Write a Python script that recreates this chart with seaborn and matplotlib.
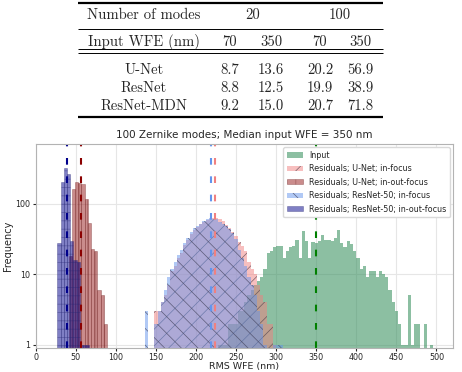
import numpy as np
import pandas as pd
import matplotlib
matplotlib.use("Agg")
import matplotlib.pyplot as plt
from matplotlib import ticker
import seaborn as sns

# ---- table data ----
mode_counts = ["20", "100"]
input_wfe = ["70", "350", "70", "350"]
models = ["U-Net", "ResNet", "ResNet-MDN"]
table_values = [
    [8.7, 13.6, 20.2, 56.9],
    [8.8, 12.5, 19.9, 38.9],
    [9.2, 15.0, 20.7, 71.8],
]

# ---- histogram data (counts per 4 nm bin, each series has its own first edge) ----
bin_width = 4

input_start = 228
input_counts = [1, 1, 1, 2, 2, 2, 3, 3, 4, 5, 6, 7, 8, 9, 12, 20, 21, 24, 25, 25,
                17, 21, 24, 25, 31, 17, 41, 30, 17, 29, 28, 30, 36, 31, 31, 30, 33, 43, 28, 24,
                30, 27, 21, 17, 12, 13, 9, 11, 11, 9, 11, 10, 9, 6, 4, 3, 2, 1, 1, 5,
                1, 2, 2, 0, 2, 0, 1, 0]

unet_in_start = 148
unet_in_counts = [3, 3, 4, 5, 7, 11, 13, 17, 20, 26, 31, 37, 43, 47, 51, 55, 58, 60, 63, 62,
                  60, 56, 50, 45, 40, 35, 29, 25, 21, 15, 12, 10, 7, 5, 4, 2, 2, 1]

unet_inout_start = 41
unet_inout_counts = [18, 160, 200, 195, 190, 115, 54, 23, 21, 6, 5, 2]

resnet_in_start = 136
resnet_in_counts = [3, 0, 0, 2, 3, 4, 6, 9, 12, 15, 19, 22, 28, 33, 40, 45, 48, 52, 56, 60,
                    62, 60, 60, 55, 52, 48, 44, 38, 32, 22, 17, 13, 9, 7, 5, 3, 2, 1, 0, 0,
                    1, 1, 1]

resnet_inout_start = 27
resnet_inout_counts = [28, 200, 320, 260, 30, 16, 15, 1, 1, 1]

series_labels = ["Input",
                 "Residuals; U-Net; in-focus",
                 "Residuals; U-Net; in-out-focus",
                 "Residuals; ResNet-50; in-focus",
                 "Residuals; ResNet-50; in-out-focus"]
medians = [350, 224, 56.9, 219, 38.9]

sns.set_style("whitegrid")
plt.rcParams.update({
    "xtick.bottom": True, "ytick.left": True,
    "xtick.major.size": 2.5, "ytick.major.size": 2.5,
    "xtick.color": "0.15", "ytick.color": "0.15",
    "axes.edgecolor": "0.7", "grid.color": "0.9",
    "hatch.linewidth": 0.5,
})

fig = plt.figure(figsize=(4.62, 3.72), dpi=100)

# ---- table drawn in figure pixel coordinates ----
tab = fig.add_axes([0, 0, 1, 1])
tab.set_xlim(0, 462)
tab.set_ylim(372, 0)
tab.axis("off")
cm = dict(family="cmr10", fontsize=10.6, ha="center", va="center")
label_x = 144
col_x = [230, 271, 320, 360]
tab.text(label_x, 15.5, "Number of modes", **cm)
tab.text((col_x[0] + col_x[1]) / 2 + 2, 15.5, mode_counts[0], **cm)
tab.text((col_x[2] + col_x[3]) / 2, 15.5, mode_counts[1], **cm)
tab.text(label_x, 42, "Input WFE (nm)", **cm)
for x, w in zip(col_x, input_wfe):
    tab.text(x, 42, w, **cm)
for row_y, name, vals in zip([70.5, 88.5, 106.5], models, table_values):
    tab.text(label_x, row_y, name, **cm)
    for x, v in zip(col_x, vals):
        tab.text(x, row_y, f"{v:.1f}", **cm)
for y, lw in [(2.5, 1.6), (28.5, 0.7), (49, 0.7), (52.5, 0.7), (117, 1.6)]:
    tab.plot([78, 383], [y, y], color="k", lw=lw, solid_capstyle="butt")

# ---- histogram ----
ax = fig.add_axes([35.7 / 462, 1 - 348 / 372, (453.3 - 35.7) / 462, (348 - 144) / 372])


def draw_hist(start, counts, **kws):
    counts = np.asarray(counts, dtype=float)
    edges = start + bin_width * np.arange(len(counts) + 1)
    df = pd.DataFrame({"rms": edges[:-1] + bin_width / 2, "n": counts})
    sns.histplot(data=df, x="rms", weights="n", bins=list(edges), ax=ax, stat="count", **kws)


draw_hist(input_start, input_counts, color="seagreen", alpha=0.55,
          edgecolor="none", linewidth=0, label=series_labels[0])
draw_hist(unet_in_start, unet_in_counts, color="lightcoral", alpha=0.5, hatch="//",
          edgecolor=(0.3, 0.25, 0.3, 0.75), linewidth=0, label=series_labels[1])
draw_hist(unet_inout_start, unet_inout_counts, color="darkred", alpha=0.45, hatch="||",
          edgecolor=(0.45, 0.15, 0.15, 0.45), linewidth=0.5, label=series_labels[2])
draw_hist(resnet_in_start, resnet_in_counts, color="cornflowerblue", alpha=0.5, hatch="\\\\",
          edgecolor=(0.25, 0.25, 0.35, 0.75), linewidth=0, label=series_labels[3])
draw_hist(resnet_inout_start, resnet_inout_counts, color="darkblue", alpha=0.5, hatch="--",
          edgecolor=(0.15, 0.15, 0.45, 0.45), linewidth=0.5, label=series_labels[4])

median_colors = ["green", "lightcoral", "darkred", "cornflowerblue", "darkblue"]
for m, c in zip(medians, median_colors):
    ax.axvline(m, color=c, lw=1.5, linestyle=(0, (3.2, 5.6)))

ax.set_yscale("log")
ax.set_ylim(0.9, 700)
ax.set_xlim(0, 521)
ax.set_xticks(np.arange(0, 501, 50))
ax.set_yticks([1, 10, 100])
ax.yaxis.set_major_formatter(ticker.ScalarFormatter())
ax.yaxis.set_minor_locator(ticker.NullLocator())
ax.tick_params(labelsize=5.8, pad=1.2)
ax.set_xlabel("RMS WFE (nm)", fontsize=6.8)
ax.xaxis.set_label_coords(0.5, -0.068)
ax.set_ylabel("Frequency", fontsize=7, labelpad=2)
ax.set_title("100 Zernike modes; Median input WFE = 350 nm", fontsize=7.5, pad=4)
ax.legend(loc="upper right", fontsize=5.8, frameon=True, framealpha=1,
          edgecolor="0.85", borderpad=0.45, handlelength=2.0, handleheight=0.6,
          labelspacing=0.55, borderaxespad=0.4)

fig.savefig("out.png", dpi=100)
